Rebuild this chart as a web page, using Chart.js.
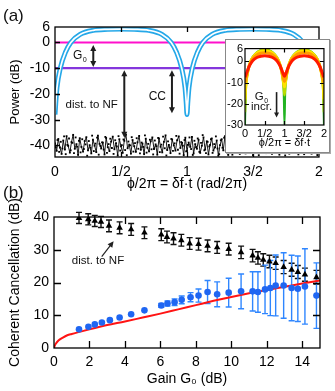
<!DOCTYPE html>
<html>
<head>
<meta charset="utf-8">
<script src="https://cdn.jsdelivr.net/npm/chart.js@4.4.0/dist/chart.umd.min.js"></script>
<style>
  html, body { margin: 0; padding: 0; background: #fff; }
  #fig { position: relative; width: 335px; height: 391px; font-family: "Liberation Sans", Arial, sans-serif; overflow: hidden; }
  #fig canvas { position: absolute; left: 0; top: 0; }
  #wrapA { position: absolute; left: 0; top: 0; width: 335px; height: 195px; }
  #wrapB { position: absolute; left: 0; top: 195px; width: 335px; height: 196px; }
  #insetBox { position: absolute; left: 225px; top: 39px; width: 103px; height: 112px; background: #fff; border: 1px solid #888; box-shadow: 1px 1px 0 #aaa; }
  .tag { position: absolute; left: 3px; font-size: 17px; line-height: 1; color: #111; }
</style>
</head>
<body>
<div id="fig">
  <div id="wrapA"><canvas id="chartA" width="335" height="195"></canvas></div>
  <div id="insetBox"><canvas id="chartInset" width="103" height="112"></canvas></div>
  <div id="wrapB"><canvas id="chartB" width="335" height="196"></canvas></div>
  <div class="tag" style="top:7px">(a)</div>
  <div class="tag" style="top:184px">(b)</div>
</div>
<script>
const FONT = '"Liberation Sans", Arial, sans-serif';

// ---- panel (a): power vs phase ----
const phaseTicks = [0, 0.5, 1, 1.5, 2];
const phaseTickLabels = ['0', '1/2', '1', '3/2', '2'];
const powerTicks = [-40, -30, -20, -10, 0, 6];

const phase = [0, 0.005, 0.015, 0.04, 0.08, 0.12, 0.19, 0.29, 0.4, 0.5, 0.6, 0.71, 0.81, 0.88, 0.92, 0.96, 0.985, 0.995, 1,
  1.005, 1.015, 1.04, 1.08, 1.12, 1.19, 1.29, 1.4, 1.5, 1.6, 1.71, 1.81, 1.88, 1.92, 1.96, 1.985, 1.995, 2];
const signalDb = [-28, -24, -17.5, -10, -3.7, 0, 3.1, 4.7, 5.1, 5.2, 5.1, 4.7, 3.1, 0, -3.7, -10, -17.5, -24, -28,
  -24, -17.5, -10, -3.7, 0, 3.1, 4.7, 5.1, 5.2, 5.1, 4.7, 3.1, 0, -3.7, -10, -17.5, -24, -28];

const levelPhase = [0, 2];
const referenceDb = [0, 0];
const suppressedDb = [-10, -10];

// noise floor samples (two interleaved sweeps)
const noiseDb = [
  -39.2, -42.1, -37.5, -40.8, -43.3, -38.1, -41.6, -36.4, -40.2, -42.8,
  -38.7, -35.9, -41.3, -39.5, -43.7, -37.2, -40.6, -42.4, -38.3, -36.8,
  -41.9, -39.9, -43.1, -37.8, -40.1, -42.6, -36.2, -39.4, -41.2, -38.9,
  -43.5, -37.1, -40.7, -42.2, -38.5, -36.6, -41.5, -39.1, -43.9, -37.6,
  -40.4, -42.9, -38.2, -35.8, -41.1, -39.7, -43.2, -37.9, -40.3, -42.5,
  -38.8, -36.3, -41.7, -39.3, -43.4, -37.4, -40.9, -42.3, -38.4, -36.9,
  -41.4, -39.6, -43.6, -37.3, -40.5, -42.7, -38.6, -36.1, -41.8, -39.8,
  -43.0, -37.7, -40.0, -42.0, -38.0, -36.5, -41.0, -39.0, -43.8, -37.0,
  -42.2, -38.9, -40.6, -36.7, -43.1, -39.5, -41.3, -37.8, -42.9, -40.1,
  -36.9, -41.6, -38.4, -43.5, -39.8, -37.3, -42.0, -40.7, -38.1, -44.0,
  -39.9, -37.6, -41.9, -36.4, -40.3, -43.7, -38.6, -41.1, -37.1, -42.6,
  -40.8, -38.3, -43.3, -39.2, -36.2, -41.4, -42.8, -37.9, -40.0, -38.7,
  -43.9, -39.4, -36.8, -42.3, -40.5, -37.5, -41.7, -38.8, -43.0, -39.6,
  -37.2, -42.1, -40.9, -36.0, -41.5, -38.2, -43.6, -39.0, -37.7, -42.4,
  -40.2, -38.5, -43.2, -41.0, -36.6, -39.7, -42.7, -37.4, -41.2, -40.4,
  -38.0, -43.4, -39.3, -36.3, -42.5, -40.6, -37.0, -41.8, -39.1, -43.8
];
const noiseDb2 = [
  -40.7, -37.9, -42.5, -38.6, -41.2, -36.5, -43.4, -39.8, -37.3, -41.9,
  -39.0, -43.0, -36.9, -40.5, -38.2, -42.7, -37.6, -41.4, -39.6, -44.0,
  -38.3, -40.9, -36.2, -42.2, -39.3, -37.0, -43.6, -40.2, -38.8, -41.6,
  -36.7, -42.9, -39.5, -37.4, -41.0, -43.3, -38.0, -40.4, -36.4, -42.0,
  -39.9, -37.7, -41.8, -43.8, -38.5, -40.0, -36.8, -42.4, -39.1, -37.2,
  -41.3, -43.1, -38.9, -40.6, -36.1, -42.8, -39.4, -37.8, -41.5, -43.5,
  -38.1, -40.3, -37.1, -42.6, -39.7, -36.6, -41.1, -43.9, -38.4, -40.8,
  -37.5, -42.1, -39.2, -36.3, -41.7, -43.2, -38.7, -40.1, -37.9, -42.3,
  -39.8, -36.9, -41.4, -43.7, -38.2, -40.7, -37.3, -42.5, -39.0, -36.0,
  -41.9, -43.0, -38.6, -40.4, -37.6, -42.9, -39.5, -36.5, -41.2, -43.4,
  -38.0, -40.9, -37.0, -42.0, -39.6, -36.7, -41.6, -43.6, -38.3, -40.2,
  -37.4, -42.7, -39.3, -36.2, -41.0, -43.1, -38.9, -40.5, -37.7, -42.2,
  -39.9, -36.8, -41.8, -43.8, -38.5, -40.0, -37.2, -42.4, -39.1, -36.4,
  -41.3, -43.3, -38.1, -40.6, -37.8, -42.8, -39.7, -36.6, -41.5, -43.9,
  -38.4, -40.3, -37.1, -42.6, -39.4, -36.1, -41.1, -43.5, -38.8, -40.8,
  -37.5, -42.1, -39.2, -36.3, -41.7, -43.2, -38.7, -40.1, -37.9, -42.3
];

// ---- inset: traces for increasing gain ----
const insetPowerTicks = [-30, -20, -10, 0, 6];
const insetPhase = [0, 0.02, 0.05, 0.1, 0.15, 0.2, 0.3, 0.4, 0.5, 0.6, 0.7, 0.8, 0.85, 0.9, 0.95, 0.98, 1,
  1.02, 1.05, 1.1, 1.15, 1.2, 1.3, 1.4, 1.5, 1.6, 1.7, 1.8, 1.85, 1.9, 1.95, 1.98, 2];
const traceGreen = [-30, -14, -7.5, -2.3, 0.5, 2.2, 4.3, 5.3, 5.6, 5.3, 4.3, 2.2, 0.5, -2.3, -7.5, -14, -30,
  -14, -7.5, -2.3, 0.5, 2.2, 4.3, 5.3, 5.6, 5.3, 4.3, 2.2, 0.5, -2.3, -7.5, -14, -30];
const traceLime = [-24, -13, -7.3, -2.4, 0.4, 2.0, 4.1, 5.1, 5.4, 5.1, 4.1, 2.0, 0.4, -2.4, -7.3, -12, -16,
  -12, -7.3, -2.4, 0.4, 2.0, 4.1, 5.1, 5.4, 5.1, 4.1, 2.0, 0.4, -2.4, -7.3, -13, -24];
const traceYellow = [-18, -11, -6.8, -2.4, 0.2, 1.8, 3.8, 4.7, 5.0, 4.7, 3.8, 1.8, 0.2, -2.4, -6.8, -10, -12,
  -10, -6.8, -2.4, 0.2, 1.8, 3.8, 4.7, 5.0, 4.7, 3.8, 1.8, 0.2, -2.4, -6.8, -11, -18];
const traceOrange = [-10, -8.8, -6, -2.5, -0.3, 1.2, 3.0, 3.8, 4.0, 3.8, 3.0, 1.2, -0.3, -2.5, -6, -8.5, -9.5,
  -8.5, -6, -2.5, -0.3, 1.2, 3.0, 3.8, 4.0, 3.8, 3.0, 1.2, -0.3, -2.5, -6, -8.8, -10];
const traceRed = [-7.5, -6.6, -5, -2.6, -0.9, 0.4, 1.8, 2.4, 2.6, 2.4, 1.8, 0.4, -0.9, -2.6, -5, -6.4, -7,
  -6.4, -5, -2.6, -0.9, 0.4, 1.8, 2.4, 2.6, 2.4, 1.8, 0.4, -0.9, -2.6, -5, -6.6, -7.5];

// ---- panel (b): cancellation vs gain ----
const gainTicks = [0, 2, 4, 6, 8, 10, 12, 14];
const ccTicks = [0, 10, 20, 30, 40];

const nfGain = [1.41, 1.93, 2.3, 2.65, 3.1, 3.7, 4.35, 5.1, 6.05, 6.37, 6.74, 7.18, 7.65, 8.15, 8.66, 9.2, 9.85,
  10.55, 11.2, 11.5, 11.8, 12.15, 12.5, 12.95, 13.4, 13.75, 14.15, 14.8];
const nfDistDb = [39.7, 39.3, 38.8, 38.5, 37.3, 36.7, 36.2, 35.2, 34.6, 33.9, 33.4, 32.9, 31.9, 31.7, 31.2, 30.7, 30.2,
  29.2, 28.2, 27.5, 26.9, 26.4, 25.9, 24.7, 23.9, 23.2, 22.4, 21.6];
const nfErrDb = [1.7, 1.7, 1.7, 1.7, 1.8, 1.8, 1.8, 1.8, 1.8, 1.8, 1.8, 1.8, 1.8, 1.8, 1.8, 1.8, 1.8,
  1.9, 1.9, 1.9, 1.9, 1.9, 1.9, 2.0, 2.0, 2.0, 2.0, 2.1];

const ccGain = [1.41, 1.94, 2.3, 2.7, 3.15, 3.7, 4.35, 5.1, 6.05, 6.4, 6.8, 7.2, 7.7, 8.15, 8.66, 9.2, 9.85,
  10.55, 11.2, 11.5, 11.9, 12.2, 12.5, 12.95, 13.4, 13.75, 14.15, 14.8];
const ccDb = [5.7, 6.5, 7.2, 7.8, 8.5, 9.3, 10.3, 11.5, 13.0, 13.6, 14.0, 14.7, 15.5, 16.0, 17.1, 16.4, 16.9,
  17.3, 17.3, 17.1, 17.9, 18.3, 19.1, 19.1, 18.3, 18.1, 18.8, 16.0];
const ccErrDb = [0.3, 0.3, 0.3, 0.3, 0.3, 0.3, 0.3, 0.3, 0.6, 0.8, 1.0, 1.2, 1.4, 2.0, 3.5, 3.8, 4.4,
  5.3, 6.0, 6.2, 7.4, 8.4, 9.3, 10.0, 10.0, 10.0, 11.5, 10.0];

const modelGain = [0, 0.05, 0.1, 0.25, 0.5, 0.75, 1, 1.5, 2, 3, 4, 5, 6, 7, 8, 9, 10, 11, 12, 13, 14, 15];
const modelDb = [0, 0.8, 1.3, 2.3, 3.2, 3.9, 4.3, 5.0, 5.7, 7.0, 8.1, 9.3, 10.5, 11.8, 13.1, 14.4, 15.6, 16.7, 17.7, 18.7, 19.7, 20.6];

function pts(xs, ys) {
  return xs.map((x, i) => ({ x: x, y: ys[i] }));
}

// samples spread evenly over the 0..2 sweep
function sweep(ys, shift) {
  return ys.map((v, i) => ({ x: 2 * (i + shift) / ys.length, y: v }));
}

function arrowHead(ctx, x, y, angle, size) {
  ctx.save();
  ctx.translate(x, y);
  ctx.rotate(angle);
  ctx.beginPath();
  ctx.moveTo(0, 0);
  ctx.lineTo(-size, -size * 0.5);
  ctx.lineTo(-size, size * 0.5);
  ctx.closePath();
  ctx.fill();
  ctx.restore();
}

function drawArrow(ctx, x1, y1, x2, y2, both, size) {
  const ang = Math.atan2(y2 - y1, x2 - x1);
  const dx = Math.cos(ang) * size * 0.8, dy = Math.sin(ang) * size * 0.8;
  ctx.beginPath();
  ctx.moveTo(both ? x1 + dx : x1, both ? y1 + dy : y1);
  ctx.lineTo(x2 - dx, y2 - dy);
  ctx.stroke();
  arrowHead(ctx, x2, y2, ang, size);
  if (both) arrowHead(ctx, x1, y1, ang + Math.PI, size);
}

function drawSub(ctx, main, sub, x, y, size) {
  ctx.textAlign = 'left';
  ctx.textBaseline = 'middle';
  ctx.font = size + 'px ' + FONT;
  ctx.fillText(main, x, y);
  const w = ctx.measureText(main).width;
  ctx.font = (size * 0.6) + 'px ' + FONT;
  ctx.fillText(sub, x + w + 0.5, y + size * 0.38);
}

// inward ticks on all four sides plus the box
const frameTicks = {
  id: 'frameTicks',
  afterDatasetsDraw(chart, args, opts) {
    const { ctx, chartArea: a, scales: { x, y } } = chart;
    const len = opts.len || 5;
    ctx.save();
    ctx.strokeStyle = '#000';
    ctx.lineWidth = opts.width || 1.3;
    ctx.beginPath();
    x.ticks.forEach(t => {
      const px = Math.round(x.getPixelForValue(t.value)) + 0.5;
      if (px <= a.left + 1 || px >= a.right - 1) return;
      ctx.moveTo(px, a.bottom); ctx.lineTo(px, a.bottom - len);
      ctx.moveTo(px, a.top); ctx.lineTo(px, a.top + len);
    });
    y.ticks.forEach(t => {
      const py = Math.round(y.getPixelForValue(t.value)) + 0.5;
      if (py <= a.top + 1 || py >= a.bottom - 1) return;
      ctx.moveTo(a.left, py); ctx.lineTo(a.left + len, py);
      ctx.moveTo(a.right, py); ctx.lineTo(a.right - len, py);
    });
    ctx.stroke();
    ctx.strokeRect(a.left, a.top, a.width, a.height);
    ctx.restore();
  }
};

const errorBars = {
  id: 'errorBars',
  beforeDatasetsDraw(chart) {
    const { ctx, scales: { x, y } } = chart;
    chart.data.datasets.forEach(ds => {
      if (!ds.errorBars) return;
      ctx.save();
      ctx.strokeStyle = ds.errorColor;
      ctx.lineWidth = 1.4;
      ctx.beginPath();
      ds.data.forEach((p, i) => {
        const e = ds.errorBars[i];
        if (!e || e < 0.5) return;
        const px = x.getPixelForValue(p.x);
        const top = y.getPixelForValue(p.y + e);
        const bot = y.getPixelForValue(p.y - e);
        ctx.moveTo(px, top); ctx.lineTo(px, bot);
        ctx.moveTo(px - 3, top); ctx.lineTo(px + 3, top);
        ctx.moveTo(px - 3, bot); ctx.lineTo(px + 3, bot);
      });
      ctx.stroke();
      ctx.restore();
    });
  }
};

const notesA = {
  id: 'notesA',
  afterDatasetsDraw(chart) {
    const { ctx, scales: { x, y } } = chart;
    const gaps = [
      { x: 0.29, from: -1, to: -9.5 },
      { x: 0.525, from: -10.8, to: -37 },
      { x: 0.886, from: -10.8, to: -27.5 }
    ];
    ctx.save();
    ctx.fillStyle = '#1e1e1e';
    ctx.strokeStyle = '#1e1e1e';
    ctx.lineWidth = 2;
    gaps.forEach(g => {
      const px = x.getPixelForValue(g.x);
      drawArrow(ctx, px, y.getPixelForValue(g.from), px, y.getPixelForValue(g.to), true, 6);
    });
    ctx.fillStyle = '#111';
    drawSub(ctx, 'G', '0', x.getPixelForValue(0.136), y.getPixelForValue(-5), 12);
    ctx.font = '11.5px ' + FONT;
    ctx.textAlign = 'center';
    ctx.textBaseline = 'middle';
    ctx.fillText('dist. to NF', x.getPixelForValue(0.278), y.getPixelForValue(-24.4));
    ctx.font = '12px ' + FONT;
    ctx.fillText('CC', x.getPixelForValue(0.775), y.getPixelForValue(-21.2));
    ctx.restore();
  }
};

const notesInset = {
  id: 'notesInset',
  afterDatasetsDraw(chart) {
    const { ctx, scales: { x, y } } = chart;
    ctx.save();
    ctx.fillStyle = '#1e1e1e';
    ctx.strokeStyle = '#1e1e1e';
    ctx.lineWidth = 1.6;
    const px = x.getPixelForValue(0.8);
    drawArrow(ctx, px, y.getPixelForValue(-14.5), px, y.getPixelForValue(-26.5), false, 5);
    ctx.fillStyle = '#111';
    drawSub(ctx, 'G', '0', x.getPixelForValue(0.25), y.getPixelForValue(-16.6), 11.5);
    ctx.font = '11.5px ' + FONT;
    ctx.textAlign = 'center';
    ctx.textBaseline = 'middle';
    ctx.fillText('incr.', x.getPixelForValue(0.42), y.getPixelForValue(-21.6));
    ctx.restore();
  }
};

const notesB = {
  id: 'notesB',
  afterDatasetsDraw(chart) {
    const { ctx, scales: { x, y } } = chart;
    ctx.save();
    ctx.fillStyle = '#222';
    ctx.strokeStyle = '#222';
    ctx.lineWidth = 1.2;
    drawArrow(ctx, x.getPixelForValue(2.69), y.getPixelForValue(27.9), x.getPixelForValue(3.36), y.getPixelForValue(32.6), false, 6);
    ctx.fillStyle = '#111';
    ctx.font = '11.5px ' + FONT;
    ctx.textAlign = 'center';
    ctx.textBaseline = 'middle';
    ctx.fillText('dist. to NF', x.getPixelForValue(2.48), y.getPixelForValue(26.6));
    ctx.restore();
  }
};

function axis(opts) {
  const ax = {
    type: 'linear',
    min: opts.min,
    max: opts.max,
    grid: { display: false, drawTicks: false },
    border: { display: false },
    afterBuildTicks: s => { s.ticks = opts.ticks.map(v => ({ value: v })); },
    afterFit: s => { if (opts.width) s.width = opts.width; if (opts.height) s.height = opts.height; },
    ticks: {
      color: '#000',
      padding: opts.padding,
      autoSkip: false,
      maxRotation: 0,
      font: { family: FONT, size: opts.fontSize },
      callback: opts.labels ? (v => opts.labels[opts.ticks.indexOf(v)]) : (v => String(v))
    }
  };
  if (opts.title) {
    ax.title = {
      display: true,
      text: opts.title,
      color: '#000',
      font: { family: FONT, size: opts.titleSize },
      padding: opts.titlePadding
    };
  }
  return ax;
}

const baseOptions = {
  responsive: false,
  animation: false,
  devicePixelRatio: 1,
  events: []
};

new Chart(document.getElementById('chartA'), {
  type: 'line',
  data: {
    datasets: [
      { data: pts(phase, signalDb), borderColor: '#ffffff', borderWidth: 1.7, pointRadius: 0, cubicInterpolationMode: 'monotone', order: 1 },
      { data: pts(phase, signalDb), borderColor: '#25a8e8', borderWidth: 5, pointRadius: 0, cubicInterpolationMode: 'monotone', order: 2 },
      { data: pts(levelPhase, referenceDb), borderColor: '#ff10cc', borderWidth: 2, pointRadius: 0, order: 3 },
      { data: pts(levelPhase, suppressedDb), borderColor: '#8436dc', borderWidth: 2.2, pointRadius: 0, order: 3 },
      { data: sweep(noiseDb, 0), borderColor: '#000', borderWidth: 0.9, pointRadius: 1.3, pointStyle: 'rect',
        pointBackgroundColor: '#000', pointBorderWidth: 0, order: 5 },
      { data: sweep(noiseDb2, 0.5), showLine: false, pointRadius: 1.3, pointStyle: 'rect',
        pointBackgroundColor: '#000', pointBorderWidth: 0, order: 5 }
    ]
  },
  options: Object.assign({}, baseOptions, {
    layout: { padding: { top: 27, right: 16, left: 0, bottom: 0 } },
    plugins: { legend: { display: false }, tooltip: { enabled: false }, frameTicks: { len: 5 } },
    scales: {
      x: axis({ min: 0, max: 2, ticks: phaseTicks, labels: phaseTickLabels, height: 38, padding: 7, fontSize: 14,
        title: 'ϕ/2π = δf·t (rad/2π)', titleSize: 14, titlePadding: { top: 0, bottom: 2 } }),
      y: axis({ min: -44.5, max: 6, ticks: powerTicks, width: 55, padding: 5, fontSize: 14,
        title: 'Power (dB)', titleSize: 13, titlePadding: { top: 8, bottom: 0 } })
    }
  }),
  plugins: [frameTicks, notesA]
});

new Chart(document.getElementById('chartInset'), {
  type: 'line',
  data: {
    datasets: [
      { data: pts(insetPhase, traceRed), borderColor: '#ff1a00', borderWidth: 3, pointRadius: 0, cubicInterpolationMode: 'monotone', order: 1 },
      { data: pts(insetPhase, traceOrange), borderColor: '#ff9d00', borderWidth: 3, pointRadius: 0, cubicInterpolationMode: 'monotone', order: 2 },
      { data: pts(insetPhase, traceYellow), borderColor: '#ffe200', borderWidth: 3, pointRadius: 0, cubicInterpolationMode: 'monotone', order: 3 },
      { data: pts(insetPhase, traceLime), borderColor: '#b9dc00', borderWidth: 2.5, pointRadius: 0, cubicInterpolationMode: 'monotone', order: 4 },
      { data: pts(insetPhase, traceGreen), borderColor: '#22b322', borderWidth: 2, pointRadius: 0, cubicInterpolationMode: 'monotone', order: 5 }
    ]
  },
  options: Object.assign({}, baseOptions, {
    layout: { padding: { top: 8, right: 4, left: 0, bottom: 0 } },
    plugins: { legend: { display: false }, tooltip: { enabled: false }, frameTicks: { len: 4, width: 1.2 } },
    scales: {
      x: axis({ min: 0, max: 2, ticks: phaseTicks, labels: phaseTickLabels, height: 27, padding: 2, fontSize: 11,
        title: 'ϕ/2π = δf·t', titleSize: 11, titlePadding: { top: 0, bottom: 2 } }),
      y: axis({ min: -30, max: 6, ticks: insetPowerTicks, width: 19, padding: 2, fontSize: 11 })
    }
  }),
  plugins: [frameTicks, notesInset]
});

new Chart(document.getElementById('chartB'), {
  type: 'scatter',
  data: {
    datasets: [
      { data: pts(nfGain, nfDistDb), errorBars: nfErrDb, errorColor: '#111', backgroundColor: '#000', borderColor: '#000',
        pointStyle: 'triangle', pointRadius: 3.8, borderWidth: 0, order: 1 },
      { data: pts(ccGain, ccDb), errorBars: ccErrDb, errorColor: '#2f86ff', backgroundColor: '#1f66f2', borderColor: '#1f66f2',
        pointStyle: 'circle', pointRadius: 3.3, borderWidth: 0, order: 2 },
      { data: pts(modelGain, modelDb), showLine: true, borderColor: '#ff1414', borderWidth: 2, pointRadius: 0,
        cubicInterpolationMode: 'monotone', order: 3 }
    ]
  },
  options: Object.assign({}, baseOptions, {
    layout: { padding: { top: 22, right: 15, left: 0, bottom: 0 } },
    plugins: { legend: { display: false }, tooltip: { enabled: false }, frameTicks: { len: 7 } },
    scales: {
      x: axis({ min: 0, max: 15, ticks: gainTicks, height: 43, padding: 6, fontSize: 14,
        title: 'Gain G₀ (dB)', titleSize: 14, titlePadding: { top: 0, bottom: 3 } }),
      y: axis({ min: 0, max: 40, ticks: ccTicks, width: 54, padding: 5, fontSize: 14,
        title: 'Coherent Cancellation (dB)', titleSize: 14, titlePadding: { top: 7, bottom: 0 } })
    }
  }),
  plugins: [errorBars, frameTicks, notesB]
});
</script>
</body>
</html>
